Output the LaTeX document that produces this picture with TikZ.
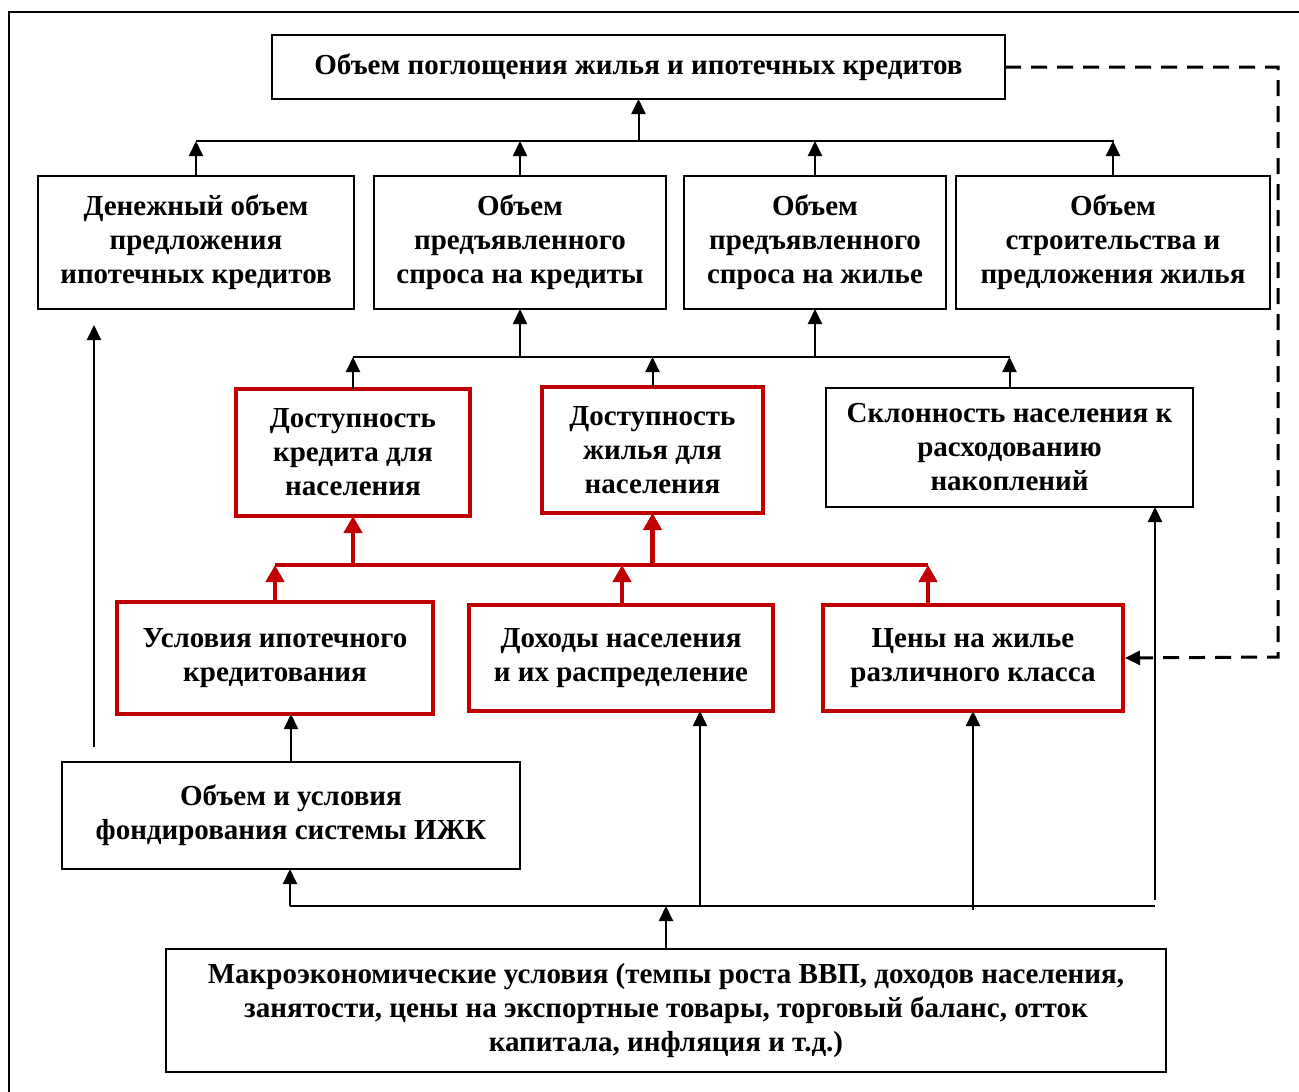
\documentclass[tikz,border=0pt]{standalone}
\usepackage{fontspec}
\setmainfont{Liberation Serif}
\usetikzlibrary{arrows.meta}
\definecolor{redb}{HTML}{C00000}
\begin{document}
\begin{tikzpicture}[x=1pt,y=-1pt,
  txt/.style={font=\fontsize{29}{34}\selectfont\bfseries, align=center},
  bbox/.style={txt, draw=black, line width=1.8pt, inner sep=0pt, outer sep=0pt},
  rbox/.style={txt, draw=redb, line width=4.5pt, inner sep=0pt, outer sep=0pt},
  ln/.style={line width=2pt},
  arr/.style={ln, -{Triangle[length=15pt,width=14pt]}},
  rln/.style={draw=redb, line width=4.5pt},
  rarr/.style={rln, -{Triangle[length=17pt,width=18pt]}},
  darr/.style={line width=3pt, dash pattern=on 16pt off 10pt, -{Triangle[length=15pt,width=14pt]}}
]
\useasboundingbox (0,0) rectangle (1299,1092);
\draw[line width=2.5pt] (9,1092) -- (9,12) -- (1299,12);

% top
\node[bbox, minimum width=733, minimum height=64] (top) at (638.5,67) {Объем поглощения жилья и ипотечных кредитов};
% row 2
\node[bbox, minimum width=316, minimum height=133] (A) at (196,242.5) {Денежный объем\\предложения\\ипотечных кредитов};
\node[bbox, minimum width=292, minimum height=133] (B) at (520,242.5) {Объем\\предъявленного\\спроса на кредиты};
\node[bbox, minimum width=262, minimum height=133] (C) at (815,242.5) {Объем\\предъявленного\\спроса на жилье};
\node[bbox, minimum width=314, minimum height=133] (D) at (1113,242.5) {Объем\\строительства и\\предложения жилья};
% row 3
\node[rbox, minimum width=234, minimum height=127] (R1) at (353,452.5) {Доступность\\кредита для\\населения};
\node[rbox, minimum width=221, minimum height=126] (R2) at (652.5,450) {Доступность\\жилья для\\населения};
\node[bbox, minimum width=367, minimum height=119] (S) at (1009.5,447.5) {Склонность населения к\\расходованию\\накоплений};
% row 4
\node[rbox, minimum width=316, minimum height=112] (R3) at (275,658) {Условия ипотечного\\кредитования};
\node[rbox, minimum width=304, minimum height=106] (R4) at (621,658) {Доходы населения\\и их распределение};
\node[rbox, minimum width=300, minimum height=106] (R5) at (973,658) {Цены на жилье\\различного класса};
% row 5
\node[bbox, minimum width=458, minimum height=107] (F) at (291,815.5) {Объем и условия\\фондирования системы ИЖК};
% bottom
\node[bbox, minimum width=1000, minimum height=123] (M) at (666,1010.5) {Макроэкономические условия (темпы роста ВВП, доходов населения,\\занятости, цены на экспортные товары, торговый баланс, отток\\капитала, инфляция и т.д.)};

% top bus
\coordinate (t1) at (196,141);
\coordinate (t2) at (1114,141);
\draw[ln] (t1) -- (t2);
\draw[arr] (top.south |- t1) -- (top.south);
\foreach \n in {A,B,C,D} \draw[arr] (\n.north) -- (\n.north |- t1);

% second bus
\coordinate (s1) at (353,357);
\coordinate (s2) at (1010,357);
\coordinate (sB) at (520,357);
\coordinate (sC) at (815,357);
\draw[ln] (s1) -- (s2);
\draw[arr] (sB) -- (B.south);
\draw[arr] (sC) -- (C.south);
\foreach \n in {R1,R2,S} \draw[arr] (\n.north) -- (\n.north |- s1);

% red bus
\coordinate (r1) at (275,565);
\coordinate (r2) at (928,565);
\coordinate (r4) at (622,565);
\draw[rln] (r1) -- (r2);
\draw[rarr] (R1.south |- r1) -- (R1.south);
\draw[rarr] (R2.south |- r1) -- (R2.south);
\draw[rarr] (R3.north) -- (r1);
\draw[rarr] (R4.north -| r4) -- (r4);
\draw[rarr] (R5.north -| r2) -- (r2);

% funding
\coordinate (fa) at (94,747);
\coordinate (fb) at (94,325);
\draw[arr] (fa) -- (fb);
\draw[arr] (F.north) -- (F.north |- R3.south);

% bottom bus
\coordinate (u1) at (290,906);
\coordinate (u2) at (1155,906);
\coordinate (u4) at (700,906);
\coordinate (u5) at (973,910);
\coordinate (u6) at (1155,900);
\coordinate (um) at (666,906);
\draw[ln] (u1) -- (u2);
\draw[arr] (u1) -- (u1 |- F.south);
\draw[arr] (u4) -- (u4 |- R4.south);
\draw[arr] (u5) -- (R5.south);
\draw[arr] (u6) -- (u6 |- S.south);
\draw[arr] (M.north) -- (um);

% dashed feedback
\coordinate (dc) at (1278,657);
\draw[darr, shorten >=2pt] (top.east) -| (dc) -- (R5.east);
\end{tikzpicture}
\end{document}
